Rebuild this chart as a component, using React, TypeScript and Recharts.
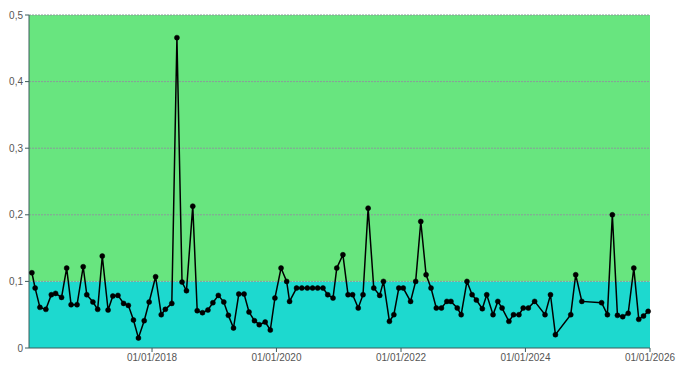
import React from "react";
import {
  LineChart,
  Line,
  XAxis,
  YAxis,
  ReferenceArea,
  ReferenceLine,
} from "recharts";

const dates = [
  "2016-01-27", "2016-02-15", "2016-03-14", "2016-04-18", "2016-05-20", "2016-06-14",
  "2016-07-19", "2016-08-18", "2016-09-13", "2016-10-18", "2016-11-23", "2016-12-14",
  "2017-01-19", "2017-02-16", "2017-03-15", "2017-04-18", "2017-05-16", "2017-06-15",
  "2017-07-18", "2017-08-15", "2017-09-14", "2017-10-13", "2017-11-16", "2017-12-15",
  "2018-01-22", "2018-02-24", "2018-03-20", "2018-04-27", "2018-05-27", "2018-06-26",
  "2018-07-22", "2018-08-28", "2018-09-23", "2018-10-24", "2018-11-25", "2018-12-24",
  "2019-01-25", "2019-02-26", "2019-03-25", "2019-04-24", "2019-05-25", "2019-06-25",
  "2019-07-24", "2019-08-25", "2019-09-22", "2019-10-27", "2019-11-26", "2019-12-23",
  "2020-01-28", "2020-03-01", "2020-03-18", "2020-04-28", "2020-05-29", "2020-06-30",
  "2020-07-31", "2020-08-30", "2020-09-30", "2020-10-28", "2020-11-28", "2020-12-20",
  "2021-01-25", "2021-02-24", "2021-03-23", "2021-04-25", "2021-05-23", "2021-06-22",
  "2021-07-25", "2021-08-29", "2021-09-20", "2021-10-25", "2021-11-20", "2021-12-19",
  "2022-01-14", "2022-02-26", "2022-03-28", "2022-04-27", "2022-05-28", "2022-06-26",
  "2022-07-27", "2022-08-26", "2022-09-27", "2022-10-21", "2022-11-27", "2022-12-20",
  "2023-01-23", "2023-02-22", "2023-03-19", "2023-04-23", "2023-05-19", "2023-06-25",
  "2023-07-23", "2023-08-17", "2023-09-26", "2023-10-23", "2023-11-24", "2023-12-19",
  "2024-01-18", "2024-02-24", "2024-04-25", "2024-05-27", "2024-06-25", "2024-09-23",
  "2024-10-22", "2024-11-27", "2025-03-23", "2025-04-26", "2025-05-25", "2025-06-24",
  "2025-07-25", "2025-08-26", "2025-09-28", "2025-10-27", "2025-11-24", "2025-12-21",
];

const values = [
  0.113, 0.09, 0.061, 0.058, 0.08, 0.082,
  0.076, 0.12, 0.065, 0.065, 0.122, 0.08,
  0.069, 0.058, 0.138, 0.057, 0.078, 0.079,
  0.067, 0.064, 0.042, 0.015, 0.041, 0.069,
  0.107, 0.05, 0.058, 0.067, 0.466, 0.099,
  0.086, 0.213, 0.056, 0.053, 0.057, 0.068,
  0.079, 0.069, 0.049, 0.03, 0.081, 0.081,
  0.054, 0.041, 0.035, 0.039, 0.027, 0.075,
  0.12, 0.1, 0.07, 0.09, 0.09, 0.09,
  0.09, 0.09, 0.09, 0.08, 0.075, 0.12,
  0.14, 0.08, 0.08, 0.06, 0.08, 0.21,
  0.09, 0.079, 0.1, 0.04, 0.05, 0.09,
  0.09, 0.07, 0.1, 0.19, 0.11, 0.09,
  0.06, 0.06, 0.07, 0.07, 0.06, 0.05,
  0.1, 0.08, 0.072, 0.059, 0.08, 0.05,
  0.07, 0.06, 0.04, 0.05, 0.05, 0.06,
  0.06, 0.07, 0.05, 0.08, 0.02, 0.05,
  0.11, 0.07, 0.068, 0.05, 0.2, 0.049,
  0.047, 0.052, 0.12, 0.043, 0.048, 0.055,
];

const xTicks = ["2018-01-01", "2020-01-01", "2022-01-01", "2024-01-01", "2026-01-01"];
const yTicks = [0, 0.1, 0.2, 0.3, 0.4, 0.5];
const gridLines = [0.1, 0.2, 0.3, 0.4, 0.5];

const ts = (s: string) => new Date(s + "T00:00:00Z").getTime();

const data = dates.map((d, i) => ({ t: ts(d), v: values[i] }));

const fmtDate = (t: number) => {
  const d = new Date(t);
  const dd = String(d.getUTCDate()).padStart(2, "0");
  const mm = String(d.getUTCMonth() + 1).padStart(2, "0");
  return `${dd}/${mm}/${d.getUTCFullYear()}`;
};

const fmtNum = (v: number) => String(v).replace(".", ",");

const tickStyle = { fontSize: 10, fill: "#555", fontFamily: "'Liberation Sans', Arial, sans-serif" };

export default function App() {
  return (
    <div style={{ position: "absolute", left: 0, top: 0 }}>
      <LineChart
        width={681}
        height={378}
        data={data}
        margin={{ top: 15, right: 31, bottom: 0, left: 0 }}
      >
        <XAxis
          dataKey="t"
          type="number"
          scale="time"
          domain={[ts("2016-01-10"), ts("2026-01-01")]}
          ticks={xTicks.map(ts)}
          tickFormatter={fmtDate}
          tick={tickStyle}
          height={30}
          stroke="#3d5c5c"
          tickSize={4}
        />
        <YAxis
          type="number"
          domain={[0, 0.5]}
          ticks={yTicks}
          tickFormatter={fmtNum}
          tick={tickStyle}
          width={29}
          stroke="#3d5c5c"
          tickSize={4}
        />
        <ReferenceArea y1={0.1} y2={0.5} fill="#68e57f" fillOpacity={1} stroke="none" />
        <ReferenceArea y1={0} y2={0.1} fill="#1dd9cf" fillOpacity={1} stroke="none" />
        {gridLines.map((g) => (
          <ReferenceLine key={g} y={g} stroke="#8a9a9a" strokeDasharray="2 1" strokeWidth={1} />
        ))}
        <Line
          dataKey="v"
          type="linear"
          stroke="#000"
          strokeWidth={1.5}
          dot={{ r: 2.5, fill: "#000", stroke: "#000", strokeWidth: 0.5 }}
          isAnimationActive={false}
        />
      </LineChart>
    </div>
  );
}
